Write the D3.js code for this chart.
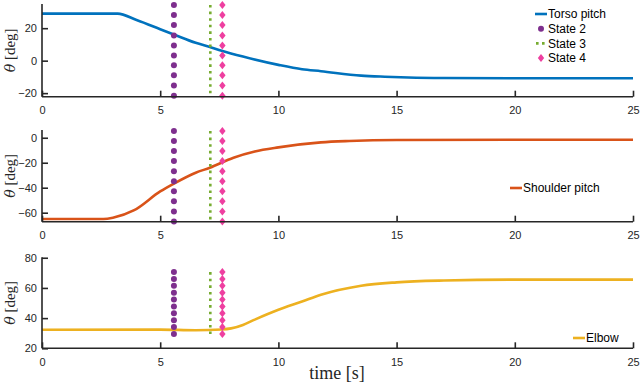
<!DOCTYPE html>
<html>
<head>
<meta charset="utf-8">
<script src="https://cdn.jsdelivr.net/npm/d3@7"></script>
<style>
  body { margin: 0; background: #fff; }
  svg { display: block; }
  .tick text { font-family: "Liberation Sans", Arial, sans-serif; font-size: 11px; fill: #262626; }
</style>
</head>
<body>
<div id="chart"></div>
<script>
// time samples [s]
var torsoT   = [0, 3.2, 4, 5, 5.6, 6.5, 7.1, 7.6, 8.5, 10, 11, 11.8, 13.5, 14.5, 15.5, 17, 20, 25];
var torsoV   = [29, 29, 25, 19.4, 16, 11, 8.4, 6.1, 2.5, -2.6, -5.3, -6.5, -9.2, -9.9, -10.4, -10.7, -10.8, -10.8];
var shoulderT = [0, 2.6, 3, 3.9, 5, 5.6, 6.5, 7.1, 8.1, 9, 10, 11.8, 13, 15, 20, 25];
var shoulderV = [-65, -65, -64, -58, -43, -36.5, -28, -24, -16, -11, -7.7, -3.7, -2.6, -1.8, -1.6, -1.6];
var elbowT   = [0, 5, 6.5, 7.6, 8, 8.5, 9, 10, 11, 11.8, 13.5, 15, 17, 20, 25];
var elbowV   = [32.3, 32.4, 32, 32.5, 33.2, 35.5, 39, 45.5, 51, 55.5, 61.5, 63.7, 64.9, 65.5, 65.5];

// state switching times [s]
var state2 = 5.58, state3 = 7.12, state4 = 7.63;
// marker heights for state lines in each panel
var markY1 = [34.3, 28.1, 22, 15.5, 9.4, 3.2, -2.9, -9.0, -15.3, -21.6];
var markY2 = [5.4, -2.6, -10.7, -18.7, -26.8, -34.8, -42.9, -50.9, -59.0, -67.0];
var markY3 = [70.5, 66, 61.4, 56.8, 52.3, 47.7, 43.2, 38.6, 34.1, 29.5];

var xTicks = [0, 5, 10, 15, 20, 25];
var yTicks1 = [-20, 0, 20];
var yTicks2 = [-60, -40, -20, 0];
var yTicks3 = [20, 40, 60, 80];

var W = 640, H = 387;
var svg = d3.select("#chart").append("svg").attr("width", W).attr("height", H);

var x = d3.scaleLinear().domain([0, 25]).range([42, 633]);

var panels = [
  {t: torsoT, v: torsoV, dom: [-22.2, 34.9], rng: [96.7, 4], ticks: yTicks1, marks: markY1,
   color: "#0072BD", name: "Torso pitch", legX: 535, legY: 14, full: true},
  {t: shoulderT, v: shoulderV, dom: [-67.2, 6.2], rng: [221.7, 130], ticks: yTicks2, marks: markY2,
   color: "#D95319", name: "Shoulder pitch", legX: 510, legY: 188},
  {t: elbowT, v: elbowV, dom: [20, 80.3], rng: [348.3, 257.3], ticks: yTicks3, marks: markY3,
   color: "#EDB120", name: "Elbow", legX: 573, legY: 338}
];

var cPurple = "#7E2F8E", cGreen = "#77AC30", cPink = "#EE3FA0";

function diamond(g, cx, cy, r) {
  g.append("path")
    .attr("d", "M" + cx + "," + (cy - r * 1.25) + "L" + (cx + r) + "," + cy + "L" + cx + "," + (cy + r * 1.25) + "L" + (cx - r) + "," + cy + "Z")
    .attr("fill", cPink);
}

panels.forEach(function (p) {
  var y = d3.scaleLinear().domain(p.dom).range(p.rng);
  var g = svg.append("g");

  // data line
  var pts = p.t.map(function (t, i) { return [t, p.v[i]]; });
  g.append("path")
    .datum(pts)
    .attr("fill", "none")
    .attr("stroke", p.color)
    .attr("stroke-width", 2.6)
    .attr("d", d3.line().x(function (d) { return x(d[0]); }).y(function (d) { return y(d[1]); }).curve(d3.curveMonotoneX));

  // state markers
  var mTop = d3.max(p.marks), mBot = d3.min(p.marks);
  g.append("line")
    .attr("x1", x(state3)).attr("x2", x(state3))
    .attr("y1", y(mTop)).attr("y2", y(mBot))
    .attr("stroke", cGreen).attr("stroke-width", 2.6)
    .attr("stroke-dasharray", "2.6,4");
  p.marks.forEach(function (m) {
    g.append("circle").attr("cx", x(state2)).attr("cy", y(m)).attr("r", 3).attr("fill", cPurple);
    diamond(g, x(state4), y(m), 3.2);
  });

  // axes
  var xa = g.append("g").attr("transform", "translate(0," + p.rng[0] + ")")
    .call(d3.axisBottom(x).tickValues(xTicks).tickSizeInner(-6).tickSizeOuter(0).tickPadding(10));
  var ya = g.append("g").attr("transform", "translate(" + x(0) + ",0)")
    .call(d3.axisLeft(y).tickValues(p.ticks).tickSizeInner(-6).tickSizeOuter(0).tickPadding(5));
  [xa, ya].forEach(function (a) {
    a.select(".domain").attr("stroke", "#262626").attr("stroke-width", 1.6);
    a.selectAll(".tick line").attr("stroke", "#262626").attr("stroke-width", 1.6);
  });
  ya.select(".domain").attr("d", "M0," + p.rng[0] + "V" + p.rng[1]);
  xa.select(".domain").attr("d", "M" + x(0) + ",0H" + x(25));

  // y label
  var cy = (p.rng[0] + p.rng[1]) / 2;
  var lab = g.append("text")
    .attr("transform", "translate(15," + cy + ") rotate(-90)")
    .attr("text-anchor", "middle")
    .attr("font-family", "'DejaVu Serif', 'Liberation Serif', serif")
    .attr("font-size", 14)
    .attr("fill", "#262626");
  lab.append("tspan").attr("font-style", "italic").text("\u03B8");
  lab.append("tspan").attr("font-family", "'Liberation Serif', serif").attr("font-size", 15).text(" [deg]");

  // legend
  var lg = g.append("g").attr("font-family", "'Liberation Sans', Arial, sans-serif").attr("font-size", 12).attr("fill", "#000");
  var entries = [{k: "line", label: p.name}];
  if (p.full) entries = entries.concat([{k: "s2", label: "State 2"}, {k: "s3", label: "State 3"}, {k: "s4", label: "State 4"}]);
  entries.forEach(function (e, i) {
    var ly = p.legY + i * 14.7, lx = p.legX;
    if (e.k === "line") {
      lg.append("line").attr("x1", lx).attr("x2", lx + 12).attr("y1", ly).attr("y2", ly).attr("stroke", p.color).attr("stroke-width", 2.6);
    } else if (e.k === "s2") {
      lg.append("circle").attr("cx", lx + 6).attr("cy", ly).attr("r", 3).attr("fill", cPurple);
    } else if (e.k === "s3") {
      lg.append("line").attr("x1", lx + 1).attr("x2", lx + 12).attr("y1", ly).attr("y2", ly).attr("stroke", cGreen).attr("stroke-width", 2.6).attr("stroke-dasharray", "2.6,3.4");
    } else {
      diamond(lg, lx + 6, ly, 3.2);
    }
    lg.append("text").attr("x", lx + 13).attr("y", ly).attr("dy", "0.35em").text(e.label);
  });
});

// x label
svg.append("text")
  .attr("x", 337).attr("y", 379)
  .attr("text-anchor", "middle")
  .attr("font-family", "'Liberation Serif', serif")
  .attr("font-size", 18)
  .attr("fill", "#262626")
  .text("time [s]");
</script>
</body>
</html>
